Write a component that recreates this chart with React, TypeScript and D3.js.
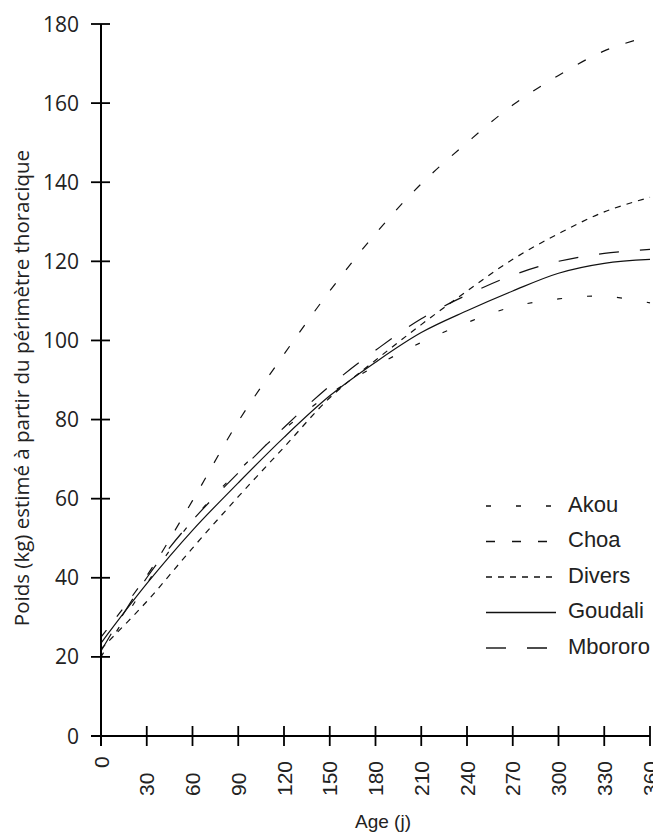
import * as d3 from 'd3'

// Age (jours) where the fitted curves were read
const ages = [0, 30, 60, 90, 120, 150, 180, 210, 240, 270, 300, 330, 360]

const akou = [20, 38.5, 54.5, 67, 77.5, 86.5, 93.5, 99.5, 104.5, 108.5, 110.5, 111.2, 109.5]
const choa = [25, 40.5, 59.5, 79.5, 96.5, 112.5, 127, 139.6, 150, 159.5, 167, 173.2, 177]
const divers = [22, 34, 47.5, 60.5, 73, 85.5, 95, 104, 112.5, 120.5, 127, 132.5, 136.2]
const goudali = [23.5, 38.5, 52, 64, 75.5, 86, 94.5, 102, 107.5, 112.5, 117, 119.5, 120.5]
const mbororo = [21.5, 40, 54.5, 66.5, 78, 88.5, 97.5, 105.5, 111.5, 116.5, 120, 122, 123]

const seriesNames = ['Akou', 'Choa', 'Divers', 'Goudali', 'Mbororo']
const seriesValues = [akou, choa, divers, goudali, mbororo]
const dashes = ['5,25', '9,17', '6,6', '', '20,21']

const yTicks = [0, 20, 40, 60, 80, 100, 120, 140, 160, 180]
const xTicks = [0, 30, 60, 90, 120, 150, 180, 210, 240, 270, 300, 330, 360]

const W = 653
const H = 835

export default function App() {
  const x = d3.scaleLinear().domain([0, 360]).range([101, 650])
  const y = d3.scaleLinear().domain([0, 180]).range([736, 24])

  const line = d3
    .line<number>()
    .x((_, i) => x(ages[i]))
    .y(d => y(d))
    .curve(d3.curveCatmullRom)

  const legendY = d3.scaleLinear().domain([0, 4]).range([504, 646])

  return (
    <div style={{ position: 'absolute', left: 0, top: 0 }}>
      <svg width={W} height={H} style={{ display: 'block', background: '#fff' }}>
        {/* curves */}
        {seriesValues.map((vals, i) => (
          <path
            key={seriesNames[i]}
            d={line(vals) || ''}
            fill="none"
            stroke="#111"
            strokeWidth={1.2}
            strokeDasharray={dashes[i] || undefined}
          />
        ))}

        {/* y axis */}
        <line x1={x(0)} x2={x(0)} y1={y(180)} y2={y(0) + 10} stroke="#000" strokeWidth={2} />
        {yTicks.map(t => (
          <g key={t}>
            <line x1={x(0) - 10} x2={x(0) + 9} y1={y(t)} y2={y(t)} stroke="#000" strokeWidth={1.8} />
            <text
              x={79}
              y={y(t)}
              dy="0.36em"
              textAnchor="end"
              fontFamily="Open Sans"
              fontSize={21}
              fill="#222"
            >
              {t}
            </text>
          </g>
        ))}
        <text
          transform="translate(29,388) rotate(-90)"
          textAnchor="middle"
          fontFamily="Open Sans"
          fontSize={20.5}
          fill="#222"
        >
          Poids (kg) estimé à partir du périmètre thoracique
        </text>

        {/* x axis */}
        <line x1={x(0) - 10} x2={x(360)} y1={y(0)} y2={y(0)} stroke="#000" strokeWidth={2} />
        {xTicks.map((t, i) => (
          <g key={t}>
            <line x1={x(t)} x2={x(t)} y1={y(0) - 10} y2={y(0) + 10} stroke="#000" strokeWidth={1.8} />
            <text
              transform={`translate(${x(t)},${i === 0 ? 768 : 796}) rotate(-90)`}
              dy="0.36em"
              textAnchor="start"
              fontFamily="Liberation Sans"
              fontSize={21}
              fill="#222"
            >
              {t}
            </text>
          </g>
        ))}
        <text x={383} y={828} textAnchor="middle" fontFamily="Liberation Sans" fontSize={19} fill="#222">
          Age (j)
        </text>

        {/* legend */}
        {seriesNames.map((name, i) => (
          <g key={name}>
            <line
              x1={486}
              x2={556}
              y1={legendY(i) + 2}
              y2={legendY(i) + 2}
              stroke="#111"
              strokeWidth={1.4}
              strokeDasharray={dashes[i] || undefined}
            />
            <text
              x={568}
              y={legendY(i)}
              dy="0.36em"
              fontFamily="Liberation Sans"
              fontSize={22}
              fill="#222"
            >
              {name}
            </text>
          </g>
        ))}
      </svg>
    </div>
  )
}
